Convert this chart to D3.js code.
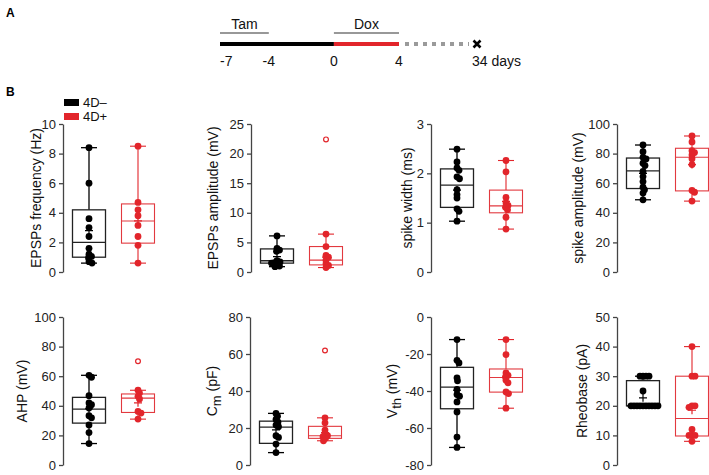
<!DOCTYPE html>
<html><head><meta charset="utf-8">
<script src="https://cdn.jsdelivr.net/npm/d3@7"></script>
<style>
body{margin:0;background:#fff;}
text{font-family:"Liberation Sans",Arial,Helvetica,sans-serif;}
</style>
</head><body>
<svg id="c" width="709" height="475"></svg>
<script>
// ---------------- DATA ----------------
const timelineDays = [-7, -4, 0, 4, 34];
const timelineLabels = ["-7", "-4", "0", "4", "34 days"];
const treatmentNames = ["Tam", "Dox"];
const treatmentStart = [-7, 0];
const treatmentEnd = [-4, 4];

const groups = ["4D–", "4D+"];

// box stats: [whiskerLow, Q1, median, Q3, whiskerHigh, mean]
const freqNeg = [8.4, 6.0, 3.6, 3.0, 2.4, 1.6, 1.2, 1.05, 0.95, 0.7, 0.6];
const freqPos = [8.5, 4.7, 4.2, 3.8, 3.15, 2.4, 1.8, 0.6];
const freqNegBox = [0.6, 1.0, 2.0, 4.2, 8.4, 2.8];
const freqPosBox = [0.6, 1.95, 3.45, 4.6, 8.5, 3.45];
const freqPosOut = [];

const ampNeg = [6.1, 4.0, 3.7, 3.5, 1.9, 1.7, 1.6, 1.5, 1.3, 1.0, 0.9];
const ampPos = [6.4, 4.3, 2.8, 2.5, 2.0, 1.4, 1.1, 0.75];
const ampNegBox = [0.9, 1.5, 1.9, 3.9, 6.1, 2.6];
const ampPosBox = [0.75, 1.2, 2.0, 4.3, 6.4, 2.5];
const ampPosOut = [22.4];

const widthNeg = [2.49, 2.23, 2.11, 2.06, 1.93, 1.89, 1.67, 1.57, 1.5, 1.28, 1.23, 1.03];
const widthPos = [2.26, 2.03, 1.51, 1.4, 1.35, 1.31, 1.26, 1.11, 0.87];
const widthNegBox = [1.03, 1.31, 1.76, 2.09, 2.49, 1.66];
const widthPosBox = [0.87, 1.2, 1.34, 1.66, 2.26, 1.43];
const widthPosOut = [];

const spikeNeg = [85.8, 81.3, 77.5, 76.4, 73.5, 71.9, 67.9, 64.5, 61.1, 57.3, 55.5, 53.3, 48.8];
const spikePos = [91.9, 87.9, 82, 80.7, 79.1, 76.6, 72.6, 55.1, 53.9, 47.9];
const spikeNegBox = [48.8, 56.4, 68.3, 77, 85.8, 66.7];
const spikePosBox = [47.9, 54.8, 77.5, 83.6, 91.9, 72.6];
const spikePosOut = [];

const ahpNeg = [60.6, 59.3, 46.8, 41.9, 40.7, 38.5, 33.3, 31.9, 27.1, 21.9, 14.5];
const ahpPos = [50.5, 48.6, 46.4, 44.6, 36.2, 35.1, 31];
const ahpNegBox = [14.5, 28.3, 37.8, 45.7, 60.6, 38];
const ahpPosBox = [31, 35.5, 45.2, 48, 50.5, 42];
const ahpPosOut = [70.1];

const cmNeg = [27.9, 26.4, 24.6, 23.2, 21.6, 20.7, 15.8, 14.9, 11.3, 6.7];
const cmPos = [25.5, 22.8, 18.9, 16.7, 15.8, 15.3, 14.4, 13.1];
const cmNegBox = [6.7, 11.7, 20.5, 23.7, 27.9, 19];
const cmPosBox = [13.1, 14.4, 15.8, 20.9, 25.5, 17.5];
const cmPosOut = [61.9];

const vthNeg = [-12.2, -23.4, -24.8, -32.9, -34.5, -39.2, -41.9, -42.8, -45.9, -51.3, -64.9, -70.5];
const vthPos = [-12.2, -20.3, -30.2, -31.5, -32.4, -34.2, -35.6, -40.5, -41.4, -49.3];
const vthNegBox = [-70.5, -49.6, -37.9, -27.2, -12.2, -39.6];
const vthPosBox = [-49.3, -40.6, -32.7, -28.1, -12.2, -32.5];
const vthPosOut = [];

const rheoNeg = [30, 30, 30, 30, 25, 20, 20, 20, 20, 20, 20, 20, 20, 20, 20];
const rheoPos = [40, 30, 30, 20, 20, 19.5, 12, 10, 10, 10, 8];
const rheoNegBox = [20, 20, 20, 28.5, 30, 22.7];
const rheoPosBox = [8, 9.8, 15.7, 30, 40, 18.5];
const rheoPosOut = [];

const panelLabels = [
  ["EPSPs frequency (Hz)"], ["EPSPs amplitude (mV)"], ["spike width (ms)"], ["spike amplitude (mV)"],
  ["AHP (mV)"], ["C", "m", " (pF)"], ["V", "th", " (mV)"], ["Rheobase (pA)"]
];
const panelDomains = [[0,10],[0,25],[0,3],[0,100],[0,100],[0,80],[-80,0],[0,50]];
const panelTicks = [
  [0,2,4,6,8,10],[0,5,10,15,20,25],[0,1,2,3],[0,20,40,60,80,100],
  [0,20,40,60,80,100],[0,20,40,60,80],[-80,-60,-40,-20,0],[0,10,20,30,40,50]
];
const panelData = [
  [freqNeg, freqPos, freqNegBox, freqPosBox, freqPosOut],
  [ampNeg, ampPos, ampNegBox, ampPosBox, ampPosOut],
  [widthNeg, widthPos, widthNegBox, widthPosBox, widthPosOut],
  [spikeNeg, spikePos, spikeNegBox, spikePosBox, spikePosOut],
  [ahpNeg, ahpPos, ahpNegBox, ahpPosBox, ahpPosOut],
  [cmNeg, cmPos, cmNegBox, cmPosBox, cmPosOut],
  [vthNeg, vthPos, vthNegBox, vthPosBox, vthPosOut],
  [rheoNeg, rheoPos, rheoNegBox, rheoPosBox, rheoPosOut]
];

// ---------------- LAYOUT / STYLE ----------------
const colors = ["#000000", "#e2252b"];
const boxStroke = ["#222222", "#e2393f"];
const layout = [
  {ax:63, yr:[272,124], lx:36}, {ax:251, yr:[272,124], lx:213}, {ax:431, yr:[272,124], lx:407}, {ax:617, yr:[272,124], lx:578},
  {ax:63, yr:[465,317], lx:22}, {ax:250, yr:[465,317], lx:212}, {ax:431, yr:[465,317], lx:392}, {ax:617, yr:[465,317], lx:582}
];
const groupOffset = [26, 75];
const boxHalf = 16.5, capHalf = 8, dotR = 3.4;

const svg = d3.select("#c");

// panel letters
svg.append("text").attr("x", 6).attr("y", 17).attr("font-size", 12).attr("font-weight", "bold").text("A");
svg.append("text").attr("x", 6).attr("y", 96).attr("font-size", 12).attr("font-weight", "bold").text("B");

// ---------------- TIMELINE ----------------
const tx = d3.scaleLinear().domain([-7, 4, 34]).range([220, 399, 477]);
const tl = svg.append("g");
const lineY = 44;
tl.append("line").attr("x1", tx(-7)).attr("x2", tx(0)).attr("y1", lineY).attr("y2", lineY)
  .attr("stroke", "#000").attr("stroke-width", 4);
tl.append("line").attr("x1", tx(0)).attr("x2", tx(4)).attr("y1", lineY).attr("y2", lineY)
  .attr("stroke", "#e2252b").attr("stroke-width", 4);
tl.append("line").attr("x1", tx(4) + 6).attr("x2", tx(34) - 8).attr("y1", lineY).attr("y2", lineY)
  .attr("stroke", "#9a9a9a").attr("stroke-width", 4).attr("stroke-dasharray", "4,5");
const xs = 3.5;
tl.append("path").attr("d", `M${tx(34)-xs},${lineY-xs}L${tx(34)+xs},${lineY+xs}M${tx(34)-xs},${lineY+xs}L${tx(34)+xs},${lineY-xs}`)
  .attr("stroke", "#000").attr("stroke-width", 2.6);
treatmentNames.forEach((n, i) => {
  tl.append("line").attr("x1", tx(treatmentStart[i])).attr("x2", tx(treatmentEnd[i]))
    .attr("y1", 33).attr("y2", 33).attr("stroke", "#333").attr("stroke-width", 1.2);
  tl.append("text").attr("x", (tx(treatmentStart[i]) + tx(treatmentEnd[i])) / 2).attr("y", 29)
    .attr("text-anchor", "middle").attr("font-size", 14).attr("fill", "#111").text(n);
});
timelineDays.forEach((d, i) => {
  const first = i === 0, last = i === timelineDays.length - 1;
  tl.append("text")
    .attr("x", first ? tx(d) : last ? tx(d) - 5 : tx(d))
    .attr("y", 66)
    .attr("text-anchor", first || last ? "start" : "middle")
    .attr("font-size", 14).attr("fill", "#111").text(timelineLabels[i]);
});

// ---------------- LEGEND ----------------
groups.forEach((g, i) => {
  svg.append("rect").attr("x", 64).attr("y", 99 + i * 14).attr("width", 15).attr("height", 7).attr("fill", colors[i]);
  svg.append("text").attr("x", 83).attr("y", 107 + i * 14).attr("font-size", 13).attr("fill", "#111").text(g);
});

// ---------------- BEESWARM ----------------
function swarm(values, y, d, step) {
  const idx = values.map((v, i) => i).sort((a, b) => values[b] - values[a]);
  const placed = [], out = new Array(values.length);
  idx.forEach(i => {
    const py = y(values[i]);
    let off = 0;
    for (let n = 0; n < 200; n++) {
      off = n === 0 ? 0 : (n % 2 ? 1 : -1) * Math.ceil(n / 2) * step;
      if (placed.every(p => Math.hypot(p[0] - off, p[1] - py) >= d)) break;
    }
    placed.push([off, py]); out[i] = off;
  });
  return out;
}

// ---------------- PANELS ----------------
panelData.forEach((pd, pi) => {
  const L = layout[pi];
  const y = d3.scaleLinear().domain(panelDomains[pi]).range(L.yr);
  const g = svg.append("g");
  const axis = d3.axisLeft(y).tickValues(panelTicks[pi]).tickFormat(d => String(d))
    .tickSize(4).tickSizeOuter(0).tickPadding(3);
  const ag = g.append("g").attr("transform", `translate(${L.ax},0)`).call(axis);
  ag.select(".domain").attr("stroke", "#444").attr("stroke-width", 1.3);
  ag.selectAll(".tick line").attr("stroke", "#444").attr("stroke-width", 1.3);
  ag.selectAll(".tick text").attr("font-size", 13).attr("fill", "#222")
    .attr("font-family", '"Liberation Sans",Arial,sans-serif');

  // y label
  const lbl = panelLabels[pi];
  const cy = (L.yr[0] + L.yr[1]) / 2;
  const t = g.append("text").attr("transform", `translate(${L.lx},${cy}) rotate(-90)`)
    .attr("text-anchor", "middle").attr("dy", "0.35em").attr("font-size", 14).attr("fill", "#111");
  if (lbl.length === 1) t.text(lbl[0]);
  else {
    t.append("tspan").text(lbl[0]);
    t.append("tspan").attr("dy", 4).attr("font-size", 13).text(lbl[1]);
    t.append("tspan").attr("dy", -4).text(lbl[2]);
  }

  [0, 1].forEach(gi => {
    const pts = pd[gi], st = pd[2 + gi];
    const cx = L.ax + groupOffset[gi];
    const col = colors[gi], bs = boxStroke[gi];
    const sw = gi === 0 ? 1.3 : 1.1;
    const bg = g.append("g");
    // whiskers
    bg.append("line").attr("x1", cx).attr("x2", cx).attr("y1", y(st[0])).attr("y2", y(st[1])).attr("stroke", col).attr("stroke-width", sw);
    bg.append("line").attr("x1", cx).attr("x2", cx).attr("y1", y(st[3])).attr("y2", y(st[4])).attr("stroke", col).attr("stroke-width", sw);
    [st[0], st[4]].forEach(v => {
      bg.append("line").attr("x1", cx - capHalf).attr("x2", cx + capHalf).attr("y1", y(v)).attr("y2", y(v))
        .attr("stroke", col).attr("stroke-width", sw);
    });
    // box
    bg.append("rect").attr("x", cx - boxHalf).attr("width", boxHalf * 2)
      .attr("y", y(st[3])).attr("height", Math.max(0.5, y(st[1]) - y(st[3])))
      .attr("fill", "none").attr("stroke", bs).attr("stroke-width", sw);
    bg.append("line").attr("x1", cx - boxHalf).attr("x2", cx + boxHalf).attr("y1", y(st[2])).attr("y2", y(st[2]))
      .attr("stroke", bs).attr("stroke-width", sw);
    // points
    const offs = swarm(pts, y, 3.0, 0.5);
    bg.selectAll("circle.pt").data(pts).join("circle").attr("class", "pt")
      .attr("cx", (d, i) => cx + offs[i]).attr("cy", d => y(d)).attr("r", dotR).attr("fill", col);
    // mean +
    const my = y(st[5]);
    bg.append("path").attr("d", `M${cx-4},${my}L${cx+4},${my}M${cx},${my-4}L${cx},${my+4}`)
      .attr("stroke", col).attr("stroke-width", 1.2);
    // outliers
    if (gi === 1) {
      bg.selectAll("circle.out").data(pd[4]).join("circle").attr("class", "out")
        .attr("cx", cx).attr("cy", d => y(d)).attr("r", 2.4).attr("fill", "#fff")
        .attr("stroke", col).attr("stroke-width", 1.2);
    }
  });
});
</script>
</body></html>
